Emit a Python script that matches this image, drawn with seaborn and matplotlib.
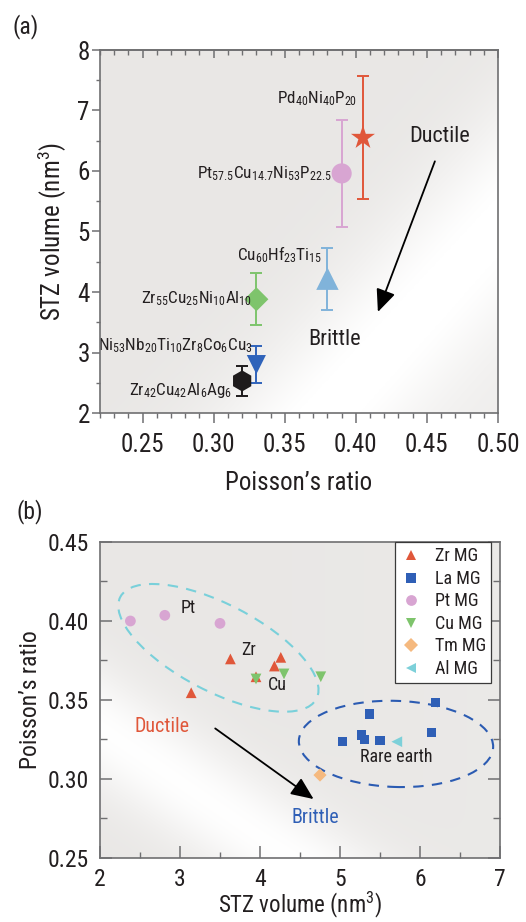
import numpy as np
import pandas as pd
import matplotlib
matplotlib.use("Agg")
import matplotlib.pyplot as plt
from matplotlib import font_manager as fm
from matplotlib.patches import Ellipse
from matplotlib.transforms import Affine2D
from matplotlib.ticker import MultipleLocator, FormatStrFormatter
import seaborn as sns

# ---------------- data: panel (a) ----------------
alloys_a = ["Pd40Ni40P20", "Pt57.5Cu14.7Ni5.3P22.5", "Cu60Hf25Ti15",
            "Zr55Cu25Ni10Al10", "Ni53Nb20Ti10Zr8Co6Cu3", "Zr42Cu42Al6Ag6"]
labels_a = [r"$\mathregular{Pd_{40}Ni_{40}P_{20}}$",
            r"$\mathregular{Pt_{57.5}Cu_{14.7}Ni_{53}P_{22.5}}$",
            r"$\mathregular{Cu_{60}Hf_{23}Ti_{15}}$",
            r"$\mathregular{Zr_{55}Cu_{25}Ni_{10}Al_{10}}$",
            r"$\mathregular{Ni_{53}Nb_{20}Ti_{10}Zr_{8}Co_{6}Cu_{3}}$",
            r"$\mathregular{Zr_{42}Cu_{42}Al_{6}Ag_{6}}$"]
poisson_a = [0.405, 0.390, 0.380, 0.330, 0.330, 0.320]
stz_a = [6.55, 5.96, 4.22, 3.88, 2.80, 2.53]
stz_err_a = [1.02, 0.88, 0.51, 0.43, 0.30, 0.25]
colors_a = ["#e0573a", "#d8a5d2", "#80b3da", "#7ec46c", "#2f63ba", "#1e1b1c"]
markers_a = ["*", "o", "^", "D", "v", "h"]
sizes_a = [330, 210, 260, 150, 190, 230]

# ---------------- data: panel (b) ----------------
groups_b = ["Zr MG"] * 5 + ["La MG"] * 7 + ["Pt MG"] * 3 + ["Cu MG"] * 3 + ["Tm MG"] + ["Al MG"]
stz_b = [3.63, 4.26, 4.18, 3.95, 3.14,
         6.19, 5.37, 6.14, 5.27, 5.31, 5.03, 5.50,
         2.38, 2.81, 3.50,
         3.95, 4.30, 4.76,
         4.75,
         5.71]
poisson_b = [0.376, 0.377, 0.3715, 0.3647, 0.3546,
             0.3485, 0.3411, 0.3296, 0.3279, 0.3251, 0.3236, 0.3242,
             0.400, 0.4036, 0.3985,
             0.3633, 0.3665, 0.3647,
             0.3025,
             0.3236]
group_order_b = ["Zr MG", "La MG", "Pt MG", "Cu MG", "Tm MG", "Al MG"]
colors_b = ["#e0573a", "#2f5fb6", "#d8a5d2", "#7ec46c", "#f5b97f", "#7dd0d9"]
markers_b = ["^", "s", "o", "v", "D", "<"]
sizes_b = [60, 45, 60, 60, 45, 60]

# ---------------- style ----------------
sns.set_theme(style="ticks")

installed = {f.name for f in fm.fontManager.ttflist}
FONT = next((n for n in ["Liberation Sans Narrow", "Roboto Condensed", "Liberation Sans"]
             if n in installed), "DejaVu Sans")
plt.rcParams["font.family"] = [FONT, "DejaVu Sans"]
plt.rcParams["mathtext.fontset"] = "custom"
plt.rcParams["mathtext.rm"] = FONT
plt.rcParams["mathtext.it"] = FONT
plt.rcParams["mathtext.bf"] = FONT
INK = "#231f20"
SPINE = "#6f6f71"

fig = plt.figure(figsize=(5.26, 9.22), dpi=100)
ax_a = fig.add_axes([100 / 526, 1 - 413 / 922, 398 / 526, 363 / 922])
ax_b = fig.add_axes([100 / 526, 1 - 858 / 922, 400 / 526, 316 / 922])


def backdrop(ax, weight):
    base = np.array([0.915, 0.908, 0.901])
    img = base + (1 - base) * weight[..., None]
    ax.imshow(np.clip(img, 0, 1), extent=(0, 1, 0, 1), transform=ax.transAxes,
              aspect="auto", origin="lower", zorder=0, interpolation="bilinear")


def sheen(px, py, p0, p1, width):
    (x0, y0), (x1, y1) = p0, p1
    dx, dy = x1 - x0, y1 - y0
    dist = np.abs(dy * (px - x0) - dx * (py - y0)) / np.hypot(dx, dy)
    return np.exp(-(dist / width) ** 2)


def style_spines(ax):
    for sp in ax.spines.values():
        sp.set_color(SPINE)
        sp.set_linewidth(1.2)
        sp.set_zorder(5)


u, v = np.meshgrid(np.linspace(0, 1, 300), np.linspace(0, 1, 300))

# ---------------- panel (a) ----------------
pxa, pya = u * 398, v * 363
wa = 0.95 * sheen(pxa, pya, (225, 0), (398, 190), 75) + 0.25 * np.clip(u - v, 0, 1)
backdrop(ax_a, np.clip(wa, 0, 1))

df_a = pd.DataFrame({"alloy": alloys_a, "poisson": poisson_a, "stz": stz_a})
for x, y, e, c in zip(poisson_a, stz_a, stz_err_a, colors_a):
    ax_a.errorbar(x, y, yerr=e, fmt="none", ecolor=c, elinewidth=1.4,
                  capsize=4, capthick=1.4, zorder=2)
sns.scatterplot(data=df_a, x="poisson", y="stz", hue="alloy", style="alloy", size="alloy",
                palette=dict(zip(alloys_a, colors_a)),
                markers=dict(zip(alloys_a, markers_a)),
                sizes=dict(zip(alloys_a, sizes_a)),
                edgecolor="none", linewidth=0, legend=False, ax=ax_a, zorder=3)

label_pos_a = [(0.401, 7.12), (0.383, 5.88), (0.376, 4.52),
               (0.327, 3.82), (0.327, 3.03), (0.313, 2.30)]
for (tx, ty), lab in zip(label_pos_a, labels_a):
    ax_a.text(tx, ty, lab, ha="right", va="baseline", fontsize=12.3, color=INK, zorder=4)

ax_a.text(0.459, 6.48, "Ductile", ha="center", va="baseline", fontsize=16, color=INK)
ax_a.text(0.385, 3.12, "Brittle", ha="center", va="baseline", fontsize=16, color=INK)
ax_a.annotate("", xy=(0.4155, 3.67), xytext=(0.4556, 6.16),
              arrowprops=dict(arrowstyle="-|>,head_length=1.15,head_width=0.5",
                              color="black", lw=1.3, shrinkA=0, shrinkB=0))

ax_a.set_xlim(0.22, 0.50)
ax_a.set_ylim(2, 8)
ax_a.xaxis.set_major_locator(MultipleLocator(0.05))
ax_a.xaxis.set_minor_locator(MultipleLocator(0.01))
ax_a.xaxis.set_major_formatter(FormatStrFormatter("%.2f"))
ax_a.yaxis.set_major_locator(MultipleLocator(1))
ax_a.yaxis.set_minor_locator(MultipleLocator(0.5))
ax_a.tick_params(axis="x", which="major", direction="out", length=7.2, width=1.1,
                 color=SPINE, labelsize=18, labelcolor=INK, pad=7, top=False)
ax_a.tick_params(axis="x", which="minor", direction="out", length=3.6, width=1.0,
                 color=SPINE, top=False)
ax_a.tick_params(axis="y", which="major", direction="out", length=5.8, width=1.1,
                 color=SPINE, labelsize=18, labelcolor=INK, pad=1.5, right=False)
ax_a.tick_params(axis="y", which="minor", direction="out", length=2.9, width=1.0,
                 color=SPINE, right=False)
top_a = ax_a.secondary_xaxis("top")
top_a.xaxis.set_major_locator(MultipleLocator(0.05))
top_a.xaxis.set_minor_locator(MultipleLocator(0.01))
top_a.tick_params(which="major", direction="in", length=5.8, width=1.1, color=SPINE, labeltop=False)
top_a.tick_params(which="minor", direction="in", length=3.6, width=1.0, color=SPINE)
top_a.spines["top"].set_color(SPINE)
top_a.spines["top"].set_linewidth(1.2)
ax_a.set_xlabel("Poisson\u2019s ratio", fontsize=18, color=INK, labelpad=10)
ax_a.set_ylabel(r"STZ volume (nm$\mathregular{^3}$)", fontsize=18, color=INK, labelpad=6)
style_spines(ax_a)

# ---------------- panel (b) ----------------
pxb, pyb = u * 400, v * 316
wb = 0.97 * sheen(pxb, pyb, (0, 130), (190, 0), 50) + 0.12 * np.clip(u - 0.4, 0, 1)
backdrop(ax_b, np.clip(wb, 0, 1))

# outlined groups (drawn in a y-scaled frame so the rotation keeps its shape)
yscale = Affine2D().scale(1, 1 / 20.0) + ax_b.transData
ax_b.add_patch(Ellipse((3.48, 0.383 * 20), 2.77, 1.10, angle=-27.8, fill=False,
                       edgecolor="#79d0da", lw=1.5, ls=(0, (5, 4)), transform=yscale, zorder=2))
ax_b.add_patch(Ellipse((5.70, 0.3222 * 20), 2.43, 1.09, angle=-2, fill=False,
                       edgecolor="#2b5bb2", lw=1.5, ls=(0, (5, 4)), transform=yscale, zorder=2))

df_b = pd.DataFrame({"group": groups_b, "stz": stz_b, "poisson": poisson_b})
sns.scatterplot(data=df_b, x="stz", y="poisson", hue="group", style="group", size="group",
                hue_order=group_order_b, style_order=group_order_b, size_order=group_order_b,
                palette=dict(zip(group_order_b, colors_b)),
                markers=dict(zip(group_order_b, markers_b)),
                sizes=dict(zip(group_order_b, sizes_b)),
                edgecolor="none", linewidth=0, ax=ax_b, zorder=3, legend="full")

ax_b.text(3.10, 0.4049, "Pt", ha="center", va="baseline", fontsize=13, color=INK)
ax_b.text(3.86, 0.3785, "Zr", ha="center", va="baseline", fontsize=13, color=INK)
ax_b.text(4.22, 0.3563, "Cu", ha="center", va="baseline", fontsize=13, color=INK)
ax_b.text(5.70, 0.311, "Rare earth", ha="center", va="baseline", fontsize=13, color=INK)
ax_b.text(2.77, 0.330, "Ductile", ha="center", va="baseline", fontsize=14.5, color="#e0573a")
ax_b.text(4.69, 0.272, "Brittle", ha="center", va="baseline", fontsize=14.5, color="#2f5fb6")
ax_b.annotate("", xy=(4.67, 0.2873), xytext=(3.44, 0.332),
              arrowprops=dict(arrowstyle="-|>,head_length=1.15,head_width=0.5",
                              color="black", lw=1.3, shrinkA=0, shrinkB=0))

ax_b.set_xlim(2, 7)
ax_b.set_ylim(0.25, 0.45)
ax_b.xaxis.set_major_locator(MultipleLocator(1))
ax_b.xaxis.set_minor_locator(MultipleLocator(0.5))
ax_b.yaxis.set_major_locator(MultipleLocator(0.05))
ax_b.yaxis.set_minor_locator(MultipleLocator(0.025))
ax_b.yaxis.set_major_formatter(FormatStrFormatter("%.2f"))
ax_b.tick_params(axis="x", which="major", direction="in", length=8.6, width=1.1, color=SPINE,
                 labelsize=17, labelcolor=INK, pad=7.5, top=False)
ax_b.tick_params(axis="x", which="minor", direction="in", length=4.3, width=1.0, color=SPINE, top=False)
ax_b.tick_params(axis="y", which="major", direction="in", length=8.6, width=1.1, color=SPINE,
                 labelsize=17, labelcolor=INK, pad=8, left=True, right=True)
ax_b.tick_params(axis="y", which="minor", direction="in", length=5, width=1.0, color=SPINE,
                 left=True, right=True)
ax_b.set_xlabel(r"STZ volume (nm$\mathregular{^3}$)", fontsize=16.5, color=INK, labelpad=-1)
ax_b.set_ylabel("Poisson\u2019s ratio", fontsize=17, color=INK, labelpad=4)
style_spines(ax_b)

sns.move_legend(ax_b, "upper right", bbox_to_anchor=(0.978, 1.0), borderaxespad=0,
                frameon=True, fancybox=False, title=None, fontsize=13,
                labelspacing=0.25, handletextpad=0.7, borderpad=0.3, handlelength=1.2)
leg = ax_b.get_legend()
leg.get_frame().set_edgecolor("#3a3a3a")
leg.get_frame().set_linewidth(0.9)
leg.get_frame().set_facecolor("white")
leg.get_frame().set_alpha(1)
leg.set_zorder(6)
for t in leg.get_texts():
    t.set_color(INK)

fig.text(12 / 526, 1 - 27 / 922, "(a)", fontsize=17, color=INK, ha="left", va="center")
fig.text(17 / 526, 1 - 512 / 922, "(b)", fontsize=17, color=INK, ha="left", va="center")

fig.savefig("out.png", dpi=100)
